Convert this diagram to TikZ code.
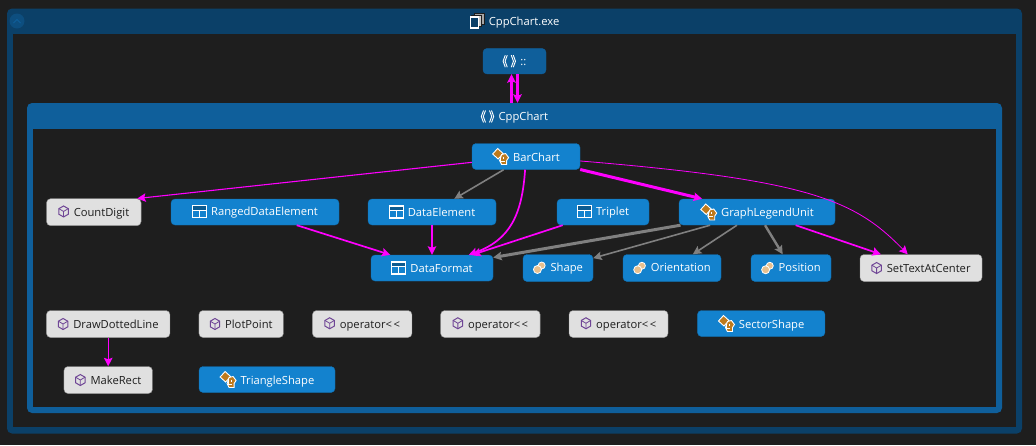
\documentclass[tikz,border=0pt]{standalone}
\usepackage{fontspec}
\setmainfont{Open Sans}
\usetikzlibrary{arrows.meta}
\definecolor{pagebg}{HTML}{1E1E1E}
\definecolor{exeblue}{HTML}{0B4068}
\definecolor{nsblue}{HTML}{0F5F9B}
\definecolor{nodeblue}{HTML}{1382CE}
\definecolor{fngray}{HTML}{E0E0E0}
\definecolor{fnedge}{HTML}{8C8C8C}
\definecolor{fnpurple}{HTML}{6F4596}
\definecolor{classorange}{HTML}{BE7A1C}
\definecolor{enumtan}{HTML}{E8C08E}
\definecolor{callcolor}{HTML}{FF00FF}
\definecolor{usecolor}{HTML}{808080}
\tikzset{
  >={Stealth[length=8.5pt,width=8.5pt,inset=1.5pt]},
  groupbox/.style={rectangle, rounded corners=5pt, inner sep=0pt},
  groupbody/.style={rectangle, fill=pagebg, inner sep=0pt},
  grouptitle/.style={text=white, font=\fontsize{11.2}{13}\selectfont, inner sep=0pt},
  mapnode/.style={
    rectangle,
    rounded corners=4pt,
    minimum height=26pt,
    inner sep=0pt,
    font=\fontsize{11.2}{13}\selectfont},
  bluenode/.style={mapnode, fill=nodeblue, draw=nodeblue!85!black, text=white},
  nsnode/.style={mapnode, fill=nsblue, draw=nsblue, text=white},
  fnnode/.style={mapnode, fill=fngray, draw=fnedge, text=pagebg, minimum height=27pt},
  thinedge/.style={draw=callcolor, line width=.8pt, ->},
  calledge/.style={draw=callcolor, line width=1.7pt, ->},
  heavyedge/.style={draw=callcolor, line width=3pt, ->},
  useedge/.style={draw=usecolor, line width=1.6pt, ->},
  usethick/.style={draw=usecolor, line width=3pt, ->}
}
% little icons, set in front of the node texts
\newcommand{\iconns}{\tikz[baseline=-4pt,x=1pt,y=1pt,sharp corners]{
  \draw[white, line width=.9pt] (-2,6) -- (-4.2,0) -- (-2,-6) (-4,6) -- (-6.2,0) -- (-4,-6);
  \draw[white, line width=.9pt] (2,6) -- (4.2,0) -- (2,-6) (4,6) -- (6.2,0) -- (4,-6);}\hspace{4.5pt}}
\newcommand{\iconstruct}{\tikz[baseline=-4pt,x=1pt,y=1pt,sharp corners]{
  \draw[white, line width=1.1pt, fill=nodeblue!70!black] (-7,-6) rectangle (7,6);
  \fill[nodeblue] (-6.4,-5.4) rectangle (6.4,1.5);
  \draw[white, line width=1.1pt] (-7,1.5) -- (7,1.5) (0,1.5) -- (0,-6);}\hspace{4pt}}
\newcommand{\iconenum}{\tikz[baseline=-4pt,x=1pt,y=1pt,sharp corners]{
  \draw[white, line width=.8pt, fill=enumtan] (2.2,2.2) circle (3.5);
  \draw[white, line width=.8pt, fill=enumtan] (-2,-1.8) circle (4);}\hspace{5pt}}
\newcommand{\iconfn}{\tikz[baseline=-4.8pt,x=1pt,y=1pt,sharp corners]{
  \draw[fnpurple, line width=1pt] (0,5.5) -- (4.7,2.8) -- (4.7,-2.8) -- (0,-5.5) -- (-4.7,-2.8) -- (-4.7,2.8) -- cycle;
  \draw[fnpurple, line width=.8pt] (-4.7,2.8) -- (0,0) -- (4.7,2.8) (0,0) -- (0,-5.5);}\hspace{5pt}}
\newcommand{\iconclass}{\tikz[baseline=-4.5pt,x=1pt,y=1pt,sharp corners]{
  \draw[white, line width=.9pt, fill=classorange] (-8,2.5) -- (-3,8) -- (2.5,3) -- (-2.5,-2.5) -- cycle;
  \draw[white, line width=.9pt, fill=classorange] (1,2) -- (5,3) -- (8,-1) -- (6,-4) -- (6,-8) -- (1,-8) -- (-1,-4) -- cycle;
  \draw[white, line width=1pt] (0,0) -- (0,-4.5) -- (4,-4.5) (3,0) -- (3,-2);}\hspace{4pt}}
\newcommand{\iconexe}{\tikz[baseline=-4pt,x=1pt,y=1pt,sharp corners]{
  \fill[white!65!black] (-2,-3) rectangle (8,8);
  \draw[pagebg, line width=.6pt] (-2,-3) rectangle (8,8);
  \fill[white!80!black] (-5,-5) rectangle (5,6);
  \draw[pagebg, line width=.6pt] (-5,-5) rectangle (5,6);
  \draw[white, line width=1.6pt, fill=exeblue] (-6,-7) rectangle (2,4);}\hspace{4pt}}
\begin{document}
\begin{tikzpicture}[x=1pt,y=-1pt]
  \fill[pagebg] (0,0) rectangle (1036,445);

  % the two groups
  \node[groupbox, fill=exeblue, minimum width=1015pt, minimum height=425pt] (ExeGroup) at (514.5,221) {};
  \node[groupbody, minimum width=1003pt, minimum height=393pt] (ExeBody) at (514.5,230.5) {};
  \node[grouptitle] (ExeTitle) at (514.5,21) {\iconexe CppChart.exe};
  \node[circle, fill=nsblue!45!exeblue, minimum size=15pt, inner sep=0pt] (Collapse) at (17,21) {};
  \draw[nsblue, line width=.8pt] (13.5,23) -- (17,19.5) -- (20.5,23);

  \node[groupbox, fill=nsblue, minimum width=975pt, minimum height=310pt] (CppGroup) at (514.5,258) {};
  \node[groupbody, minimum width=963pt, minimum height=277.5pt] (CppBody) at (514.5,268.2) {};
  \node[grouptitle] (CppTitle) at (514.5,116.6) {\iconns CppChart};

  \node[nsnode, minimum width=63pt, minimum height=25.5pt] (Global) at (514.5,61.2) {\iconns ::};

  % first row and the class on top
  \node[bluenode, minimum width=108pt] (BarChart) at (526,156.5) {\iconclass BarChart};
  \node[fnnode, minimum width=94.5pt] (CountDigit) at (93.8,212.2) {\iconfn CountDigit};
  \node[bluenode, minimum width=168pt] (RangedDataElement) at (255,212) {\iconstruct RangedDataElement};
  \node[bluenode, minimum width=128pt] (DataElement) at (432,212) {\iconstruct DataElement};
  \node[bluenode, minimum width=92pt] (Triplet) at (603,212) {\iconstruct Triplet};
  \node[bluenode, minimum width=156pt] (GraphLegendUnit) at (757,212) {\iconclass GraphLegendUnit};

  % second row
  \node[bluenode, minimum width=122pt] (DataFormat) at (432,268) {\iconstruct DataFormat};
  \node[bluenode, minimum width=70pt, minimum height=27pt] (Shape) at (558,268) {\iconenum Shape};
  \node[bluenode, minimum width=98pt, minimum height=27pt] (Orientation) at (672,268) {\iconenum Orientation};
  \node[bluenode, minimum width=80pt, minimum height=27pt] (Position) at (791,268) {\iconenum Position};
  \node[fnnode, minimum width=122pt] (SetTextAtCenter) at (921,268) {\iconfn SetTextAtCenter};

  % the loose ones
  \node[fnnode, minimum width=123.5pt] (DrawDottedLine) at (108.2,324) {\iconfn DrawDottedLine};
  \node[fnnode, minimum width=84.5pt] (PlotPoint) at (241.2,324) {\iconfn PlotPoint};
  \node[fnnode, minimum width=99.5pt] (OperatorA) at (362.2,324) {\iconfn operator<\kern1.5pt<};
  \node[fnnode, minimum width=99.5pt] (OperatorB) at (490.4,324) {\iconfn operator<\kern1.5pt<};
  \node[fnnode, minimum width=99pt] (OperatorC) at (618.5,324) {\iconfn operator<\kern1.5pt<};
  \node[bluenode, minimum width=127.5pt] (SectorShape) at (761.2,323.5) {\iconclass SectorShape};
  \node[fnnode, minimum width=88.5pt] (MakeRect) at (108.2,380) {\iconfn MakeRect};
  \node[bluenode, minimum width=136pt] (TriangleShape) at (267,379.5) {\iconclass TriangleShape};

  % connectors
  \draw[calledge, line width=2.2pt] ([xshift=-3pt]Global.south |- CppGroup.north) -- ([xshift=-3pt]Global.south);
  \draw[calledge, line width=2.2pt] ([xshift=3pt]Global.south) -- ([xshift=3pt]Global.south |- CppGroup.north);

  \draw[thinedge, line width=1.1pt] (BarChart) -- ([xshift=-4pt]CountDigit.north east);
  \draw[useedge] (BarChart) -- (DataElement);
  \draw[calledge] (BarChart) .. controls (522,215) and (510,240) .. (DataFormat);
  \draw[heavyedge] (BarChart) -- (GraphLegendUnit);
  \draw[thinedge] (BarChart) .. controls (810,180) and (855,200) .. (SetTextAtCenter);

  \draw[calledge] (RangedDataElement) -- (DataFormat);
  \draw[calledge] (DataElement) -- (DataFormat);
  \draw[calledge] (Triplet) -- (DataFormat);

  \draw[usethick] (GraphLegendUnit) -- (DataFormat);
  \draw[useedge] (GraphLegendUnit) -- (Shape);
  \draw[useedge] (GraphLegendUnit) -- (Orientation);
  \draw[usethick, line width=2.4pt] (GraphLegendUnit) -- (Position);
  \draw[calledge] (GraphLegendUnit) -- (SetTextAtCenter);

  \draw[calledge, line width=1.3pt] (DrawDottedLine) -- (MakeRect);
\end{tikzpicture}
\end{document}
